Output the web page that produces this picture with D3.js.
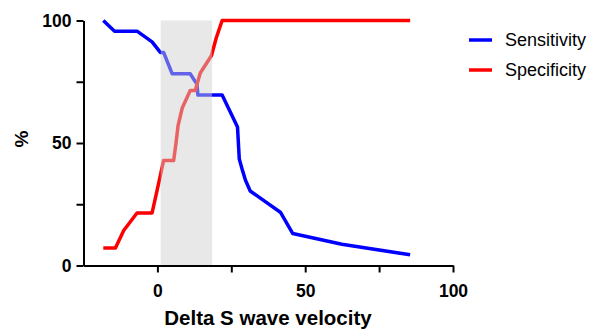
<!DOCTYPE html>
<html>
<head>
<meta charset="utf-8">
<script src="https://cdn.jsdelivr.net/npm/d3@7"></script>
<style>
  body { margin: 0; background: #fff; }
  svg { display: block; font-family: Arial, "Liberation Sans", sans-serif; }
</style>
</head>
<body>
<div id="chart"></div>
<script>
const WIDTH = 589;
const HEIGHT = 329;

// Sensitivity curve (blue)
const sensX = [-18.3, -14.5, -6.9, -1.8, 1.0, 2.1, 5.0, 11.1, 13.4, 13.7, 21.9, 27.1, 27.3, 27.5, 27.7, 28.7, 29.8, 31.4, 36.5, 41.6, 43.7, 45.8, 62.4, 85.5];
const sensY = [100, 95.65, 95.65, 91.3, 86.96, 86.96, 78.26, 78.26, 73.91, 69.57, 69.57, 56.52, 52.17, 47.83, 43.48, 39.13, 34.78, 30.43, 26.09, 21.74, 17.39, 13.04, 8.7, 4.35];

// Specificity curve (red)
const specX = [-18.3, -14.2, -11.4, -6.9, -1.8, -0.5, 0.8, 2.1, 5.5, 6.3, 7.0, 8.4, 11.1, 12.8, 14.5, 18.3, 19.9, 21.9, 85.5];
const specY = [7.14, 7.14, 14.29, 21.43, 21.43, 28.57, 35.71, 42.86, 42.86, 50, 57.14, 64.29, 71.43, 71.43, 78.57, 85.71, 92.86, 100, 100];

const bandRange = [1.1, 18.5];
const xTicks = [0, 50, 100];
const xMinorTicks = [25, 75];
const yTicks = [0, 50, 100];
const yMinorTicks = [25, 75];
const seriesNames = ['Sensitivity', 'Specificity'];
const seriesColors = ['#0000ff', '#ff0000'];

const x = d3.scaleLinear().domain([-25, 100]).range([83.5, 453]);
const y = d3.scaleLinear().domain([0, 100]).range([265.5, 20.5]);

const svg = d3.select('#chart')
  .append('svg')
  .attr('width', WIDTH)
  .attr('height', HEIGHT);

const line = d3.line().x(d => x(d[0])).y(d => y(d[1]));

const series = [
  d3.zip(sensX, sensY),
  d3.zip(specX, specY),
];

svg.append('g')
  .selectAll('path')
  .data(series)
  .join('path')
  .attr('d', line)
  .attr('fill', 'none')
  .attr('stroke', (d, i) => seriesColors[i])
  .attr('stroke-width', 3.5)
  .attr('stroke-linejoin', 'round');

// shaded band sits on top of the lines, semi-transparent
svg.append('rect')
  .attr('x', x(bandRange[0]))
  .attr('y', y(100))
  .attr('width', x(bandRange[1]) - x(bandRange[0]))
  .attr('height', y(0) - y(100))
  .attr('fill', '#cfcfcf')
  .attr('opacity', 0.48);

// y axis
svg.append('g')
  .attr('transform', `translate(${x(-25)},0)`)
  .call(d3.axisLeft(y).tickValues(yTicks).tickSize(7).tickPadding(5).tickSizeOuter(0));

svg.append('g')
  .attr('transform', `translate(${x(-25)},0)`)
  .call(d3.axisLeft(y).tickValues(yMinorTicks).tickSize(7).tickFormat('').tickSizeOuter(0))
  .select('.domain').remove();

// x axis
svg.append('g')
  .attr('transform', `translate(0,${y(0)})`)
  .call(d3.axisBottom(x).tickValues(xTicks).tickSize(7).tickPadding(12).tickSizeOuter(0));

svg.append('g')
  .attr('transform', `translate(0,${y(0)})`)
  .call(d3.axisBottom(x).tickValues(xMinorTicks).tickSize(7).tickFormat('').tickSizeOuter(0))
  .select('.domain').remove();

svg.selectAll('.domain, .tick line')
  .attr('stroke', '#000')
  .attr('stroke-width', 2);

svg.selectAll('.tick text')
  .attr('fill', '#000')
  .style('font-size', '17.5px')
  .style('font-weight', 'bold')
  .style('font-family', 'Arial, "Liberation Sans", sans-serif');

// axis titles
svg.append('text')
  .attr('x', 268)
  .attr('y', 325)
  .attr('text-anchor', 'middle')
  .style('font-size', '20.5px')
  .style('font-weight', 'bold')
  .text('Delta S wave velocity');

svg.append('text')
  .attr('transform', 'translate(28,139) rotate(-90)')
  .attr('text-anchor', 'middle')
  .style('font-size', '19px')
  .style('font-weight', 'bold')
  .text('%');

// legend
const legend = svg.append('g')
  .selectAll('g')
  .data(seriesNames)
  .join('g')
  .attr('transform', (d, i) => `translate(469,${40 + i * 30})`);

legend.append('line')
  .attr('x1', 0)
  .attr('x2', 23)
  .attr('stroke', (d, i) => seriesColors[i])
  .attr('stroke-width', 3.5);

legend.append('text')
  .attr('x', 36)
  .attr('dy', '0.35em')
  .style('font-size', '18px')
  .text(d => d);
</script>
</body>
</html>
